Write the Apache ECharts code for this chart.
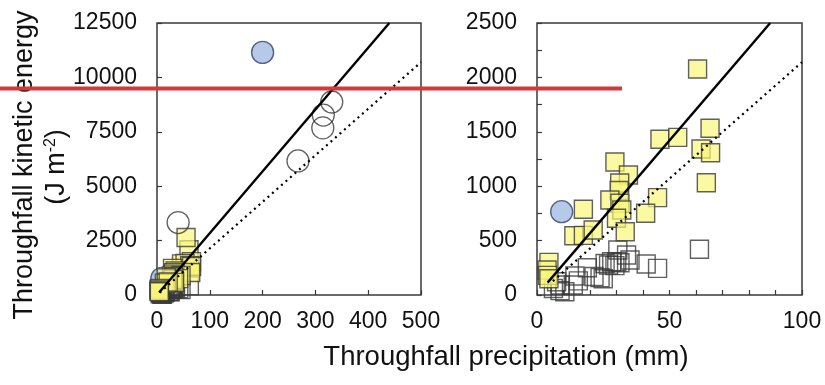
<!DOCTYPE html>
<html>
<head>
<meta charset="utf-8">
<script src="https://cdn.jsdelivr.net/npm/echarts@6/dist/echarts.min.js"></script>
<style>
  html, body { margin: 0; padding: 0; background: #fff; }
  #chart { width: 825px; height: 385px; }
</style>
</head>
<body>
<div id="chart"></div>
<script>
// [precipitation mm, kinetic energy J m-2]
const yellowSquares = [
  [60.6, 2077], [65.3, 1532], [46.4, 1431], [53.1, 1449], [61.9, 1342], [65.5, 1308],
  [63.9, 1032], [29.4, 1222], [34.5, 1103], [31.2, 1030], [31.0, 960], [45.5, 895],
  [41.0, 751], [27.5, 873], [31.3, 843], [32.0, 781], [30.0, 705], [33.3, 582],
  [17.5, 788], [13.9, 545], [17.5, 548], [21.2, 597], [4.5, 300], [3.8, 230],
  [4.0, 180], [4.5, 150], [55, 2640]
];
const openSquares = [
  [61.3, 420], [45.5, 245], [41.2, 285], [35.1, 322], [33.8, 368], [30.5, 414],
  [31.3, 297], [30.1, 306], [29.4, 270], [28.2, 306], [27.0, 276], [25.7, 290],
  [25.0, 150], [23.8, 160], [21.5, 170], [19.0, 250], [15.6, 130], [14.3, 175],
  [13.7, 92], [8.7, 92], [8.7, 40], [7.4, 122], [6.2, 60], [10.5, 30]
];
const openCircles = [[331, 8870], [315, 8270], [314, 7680], [267, 6160], [40, 3330]];
const blueCircles = [[200, 11150], [9.3, 766]];

const solidLeft = [[4, 114], [440, 12500]];
const dottedLeft = [[5, 107], [500, 10700]];
const solidRight = [[4, 114], [88, 2500]];
const dottedRight = [[6, 128], [100, 2140]];

const leftX = { min: 0, max: 500, interval: 100 };
const leftY = { min: 0, max: 12500, interval: 2500 };
const rightX = { min: 0, max: 100, interval: 10, labelEvery: 50 };
const rightY = { min: 0, max: 2500, interval: 250, labelEvery: 500 };

const font = '"Liberation Sans", Arial, sans-serif';
const ink = '#3a3a3a';

const chart = echarts.init(document.getElementById('chart'));

const makeAxis = (idx, range, isX) => ({
  type: 'value',
  gridIndex: idx,
  min: range.min,
  max: range.max,
  interval: range.interval,
  splitLine: { show: false },
  axisLine: { show: false },
  axisTick: { show: true, inside: true, length: 5, lineStyle: { color: ink, width: 1.2 } },
  axisLabel: {
    color: '#111',
    fontSize: 23,
    fontFamily: font,
    margin: isX ? 15 : 20,
    formatter: (v) => (range.labelEvery && v % range.labelEvery !== 0 ? '' : String(v))
  }
});

// blue circles sit under the squares, as in the left panel of the reference
const makeSeries = (idx, solid, dotted) => [
  {
    type: 'scatter', xAxisIndex: idx, yAxisIndex: idx, data: blueCircles,
    symbol: 'circle', symbolSize: 22, clip: true,
    itemStyle: { color: '#a4bbe4', borderColor: '#34436a', borderWidth: 1.4 }
  },
  {
    type: 'scatter', xAxisIndex: idx, yAxisIndex: idx, data: openSquares,
    symbol: 'rect', symbolSize: 18, clip: true,
    itemStyle: { color: 'rgba(255,255,255,0)', borderColor: ink, borderWidth: 1.4 }
  },
  {
    type: 'scatter', xAxisIndex: idx, yAxisIndex: idx, data: yellowSquares,
    symbol: 'rect', symbolSize: 18, clip: true,
    itemStyle: { color: 'rgba(250,246,120,0.85)', borderColor: ink, borderWidth: 1.4 }
  },
  {
    type: 'scatter', xAxisIndex: idx, yAxisIndex: idx, data: openCircles,
    symbol: 'circle', symbolSize: 22, clip: true,
    itemStyle: { color: 'rgba(255,255,255,0)', borderColor: ink, borderWidth: 1.3 }
  },
  {
    type: 'line', xAxisIndex: idx, yAxisIndex: idx, data: solid,
    symbol: 'none', clip: true, z: 5,
    lineStyle: { color: '#000', width: 2.4 }
  },
  {
    type: 'line', xAxisIndex: idx, yAxisIndex: idx, data: dotted,
    symbol: 'none', clip: true, z: 5,
    lineStyle: { color: '#000', width: 2.2, type: [2, 4] }
  }
];

const option = {
  animation: false,
  backgroundColor: '#fff',
  grid: [
    { left: 157, top: 23, width: 264, height: 272, show: true, borderColor: ink, borderWidth: 1.5, backgroundColor: 'transparent' },
    { left: 537, top: 23, width: 265, height: 272, show: true, borderColor: ink, borderWidth: 1.5, backgroundColor: 'transparent' }
  ],
  xAxis: [makeAxis(0, leftX, true), makeAxis(1, rightX, true)],
  yAxis: [makeAxis(0, leftY, false), makeAxis(1, rightY, false)],
  series: [...makeSeries(0, solidLeft, dottedLeft), ...makeSeries(1, solidRight, dottedRight)],
  graphic: [
    {
      type: 'text', x: 25, y: 165, rotation: Math.PI / 2,
      style: {
        text: 'Throughfall kinetic energy', fill: '#111', fontSize: 27, fontFamily: font,
        align: 'center', verticalAlign: 'middle'
      }
    },
    {
      type: 'text', x: 57, y: 167, rotation: Math.PI / 2,
      style: {
        text: '(J m{sup|-2})', fill: '#111', fontSize: 27, fontFamily: font,
        align: 'center', verticalAlign: 'middle',
        rich: { sup: { fontSize: 16, fontFamily: font, verticalAlign: 'top', padding: [0, 0, 12, 0] } }
      }
    },
    {
      type: 'text', x: 506, y: 357,
      style: {
        text: 'Throughfall precipitation (mm)', fill: '#111', fontSize: 27.5, fontFamily: font,
        align: 'center', verticalAlign: 'middle'
      }
    },
    {
      type: 'line', z: 100,
      shape: { x1: 0, y1: 88.5, x2: 622, y2: 88.5 },
      style: { stroke: '#d7363c', lineWidth: 4 }
    }
  ]
};

chart.setOption(option);
</script>
</body>
</html>
